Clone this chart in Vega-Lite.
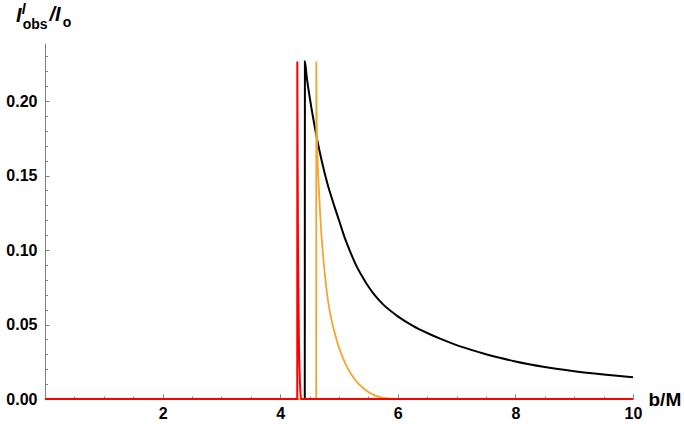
{
  "$schema": "https://vega.github.io/schema/vega-lite/v6.json",
  "width": 588,
  "height": 356,
  "autosize": {"type": "none"},
  "padding": {"left": 45, "top": 43, "right": 51, "bottom": 29},
  "background": "white",
  "config": {"view": {"stroke": null}, "font": "Liberation Sans"},
  "datasets": {
    "black": [
      {"b": 0, "v": 0}, {"b": 4.418, "v": 0}, {"b": 4.42, "v": 0.2265}, {"b": 4.45, "v": 0.2165},
      {"b": 4.5, "v": 0.203}, {"b": 4.55, "v": 0.191}, {"b": 4.6, "v": 0.18}, {"b": 4.65, "v": 0.17},
      {"b": 4.7, "v": 0.161}, {"b": 4.8, "v": 0.145}, {"b": 4.9, "v": 0.132}, {"b": 5.0, "v": 0.12},
      {"b": 5.1, "v": 0.108}, {"b": 5.2, "v": 0.098}, {"b": 5.3, "v": 0.089}, {"b": 5.4, "v": 0.082},
      {"b": 5.5, "v": 0.0755}, {"b": 5.6, "v": 0.07}, {"b": 5.75, "v": 0.0635}, {"b": 6.0, "v": 0.0555},
      {"b": 6.25, "v": 0.0493}, {"b": 6.5, "v": 0.0443}, {"b": 6.75, "v": 0.04}, {"b": 7.0, "v": 0.0362},
      {"b": 7.25, "v": 0.033}, {"b": 7.5, "v": 0.0301}, {"b": 7.75, "v": 0.0275}, {"b": 8.0, "v": 0.0252},
      {"b": 8.5, "v": 0.0215}, {"b": 9.0, "v": 0.0187}, {"b": 9.5, "v": 0.0165}, {"b": 10, "v": 0.0146}
    ],
    "orange": [
      {"b": 0, "v": 0}, {"b": 4.612, "v": 0}, {"b": 4.614, "v": 0.2265}, {"b": 4.617, "v": 0.205},
      {"b": 4.622, "v": 0.185}, {"b": 4.63, "v": 0.168}, {"b": 4.64, "v": 0.156}, {"b": 4.65, "v": 0.147},
      {"b": 4.665, "v": 0.135}, {"b": 4.68, "v": 0.124}, {"b": 4.7, "v": 0.111}, {"b": 4.73, "v": 0.096},
      {"b": 4.76, "v": 0.0835}, {"b": 4.8, "v": 0.0695}, {"b": 4.85, "v": 0.0575}, {"b": 4.9, "v": 0.0485},
      {"b": 4.95, "v": 0.041}, {"b": 5.0, "v": 0.0345}, {"b": 5.1, "v": 0.0245}, {"b": 5.2, "v": 0.0171},
      {"b": 5.3, "v": 0.0117}, {"b": 5.4, "v": 0.0077}, {"b": 5.5, "v": 0.0047}, {"b": 5.6, "v": 0.0026},
      {"b": 5.7, "v": 0.0013}, {"b": 5.8, "v": 0.0005}, {"b": 5.9, "v": 0.0001}, {"b": 6.0, "v": 0},
      {"b": 10, "v": 0}
    ],
    "red": [
      {"b": 0, "v": 0}, {"b": 4.29, "v": 0}, {"b": 4.291, "v": 0.2265}, {"b": 4.296, "v": 0.16},
      {"b": 4.302, "v": 0.11}, {"b": 4.31, "v": 0.07}, {"b": 4.318, "v": 0.04}, {"b": 4.325, "v": 0.026},
      {"b": 4.335, "v": 0.012}, {"b": 4.345, "v": 0.004}, {"b": 4.355, "v": 0}, {"b": 10, "v": 0}
    ]
  },
  "resolve": {"axis": {"x": "independent", "y": "independent"}},
  "layer": [
    {
      "data": {"name": "black"},
      "mark": {"type": "line", "color": "#000000", "strokeWidth": 2, "interpolate": "monotone"},
      "encoding": {
        "x": {
          "field": "b", "type": "quantitative",
          "scale": {"domain": [0, 10], "nice": false, "zero": false},
          "axis": {
            "orient": "bottom",
            "values": [2, 4, 6, 8, 10],
            "format": "d",
            "labelFont": "Liberation Sans", "labelFontSize": 16, "labelFontWeight": "bold", "labelColor": "black",
            "labelFlush": false, "labelOverlap": false, "labelPadding": 11.5,
            "domainColor": "#808080", "domainWidth": 1, "tickColor": "#808080", "tickWidth": 1,
            "tickSize": -5,
            "grid": false,
            "title": "b/M", "titleX": 603, "titleY": 6, "titleAlign": "left", "titleBaseline": "alphabetic",
            "titleFont": "Liberation Sans", "titleFontSize": 19, "titleFontWeight": "bold", "titleColor": "black"
          }
        },
        "y": {
          "field": "v", "type": "quantitative",
          "scale": {"domain": [0, 0.239], "nice": false, "zero": false},
          "axis": {
            "orient": "left",
            "values": [0, 0.05, 0.1, 0.15, 0.2],
            "format": ".2f",
            "labelFont": "Liberation Sans", "labelFontSize": 16, "labelFontWeight": "bold", "labelColor": "black",
            "labelFlush": false, "labelOverlap": false, "labelPadding": 12,
            "domainColor": "#808080", "domainWidth": 1, "tickColor": "#808080", "tickWidth": 1,
            "tickSize": -4,
            "grid": false,
            "title": null
          }
        }
      }
    },
    {
      "data": {"name": "orange"},
      "mark": {"type": "line", "color": "#F2A632", "strokeWidth": 1.8, "interpolate": "monotone"},
      "encoding": {
        "x": {
          "field": "b", "type": "quantitative",
          "scale": {"domain": [0, 10], "nice": false, "zero": false},
          "axis": {
            "orient": "bottom",
            "values": [0.5, 1, 1.5, 2.5, 3, 3.5, 4.5, 5, 5.5, 6.5, 7, 7.5, 8.5, 9, 9.5],
            "labels": false, "domain": false, "grid": false,
            "tickColor": "#808080", "tickWidth": 1, "tickSize": -3,
            "title": null
          }
        },
        "y": {
          "field": "v", "type": "quantitative",
          "scale": {"domain": [0, 0.239], "nice": false, "zero": false},
          "axis": {
            "orient": "left",
            "values": [0.01, 0.02, 0.03, 0.04, 0.06, 0.07, 0.08, 0.09, 0.11, 0.12, 0.13, 0.14, 0.16, 0.17, 0.18, 0.19, 0.21, 0.22, 0.23],
            "labels": false, "domain": false, "grid": false,
            "tickColor": "#808080", "tickWidth": 1, "tickSize": -2.5,
            "title": null
          }
        }
      }
    },
    {
      "data": {"name": "red"},
      "mark": {"type": "line", "color": "#FF0000", "strokeWidth": 2, "interpolate": "monotone"},
      "encoding": {
        "x": {"field": "b", "type": "quantitative", "scale": {"domain": [0, 10], "nice": false, "zero": false}, "axis": null},
        "y": {"field": "v", "type": "quantitative", "scale": {"domain": [0, 0.239], "nice": false, "zero": false}, "axis": null}
      }
    },
    {"data": {"values": [{"t": "I"}]}, "mark": {"type": "text", "fontSize": 20, "fontWeight": "bold", "fontStyle": "italic", "align": "left", "baseline": "alphabetic", "color": "black", "clip": false},
     "encoding": {"text": {"field": "t"}, "x": {"datum": -0.493, "type": "quantitative", "axis": null}, "y": {"datum": 0.2533, "type": "quantitative", "axis": null}}},
    {"data": {"values": [{"t": "l"}]}, "mark": {"type": "text", "fontSize": 14, "fontWeight": "bold", "fontStyle": "italic", "align": "left", "baseline": "alphabetic", "color": "black", "clip": false},
     "encoding": {"text": {"field": "t"}, "x": {"datum": -0.396, "type": "quantitative", "axis": null}, "y": {"datum": 0.2588, "type": "quantitative", "axis": null}}},
    {"data": {"values": [{"t": "obs"}]}, "mark": {"type": "text", "fontSize": 14, "fontWeight": "bold", "align": "left", "baseline": "alphabetic", "color": "black", "clip": false},
     "encoding": {"text": {"field": "t"}, "x": {"datum": -0.379, "type": "quantitative", "axis": null}, "y": {"datum": 0.2486, "type": "quantitative", "axis": null}}},
    {"data": {"values": [{"t": "/I"}]}, "mark": {"type": "text", "fontSize": 20, "fontWeight": "bold", "fontStyle": "italic", "align": "left", "baseline": "alphabetic", "color": "black", "clip": false},
     "encoding": {"text": {"field": "t"}, "x": {"datum": 0.075, "type": "quantitative", "axis": null}, "y": {"datum": 0.2536, "type": "quantitative", "axis": null}}},
    {"data": {"values": [{"t": "o"}]}, "mark": {"type": "text", "fontSize": 14, "fontWeight": "bold", "align": "left", "baseline": "alphabetic", "color": "black", "clip": false},
     "encoding": {"text": {"field": "t"}, "x": {"datum": 0.3, "type": "quantitative", "axis": null}, "y": {"datum": 0.2499, "type": "quantitative", "axis": null}}}
  ]
}
